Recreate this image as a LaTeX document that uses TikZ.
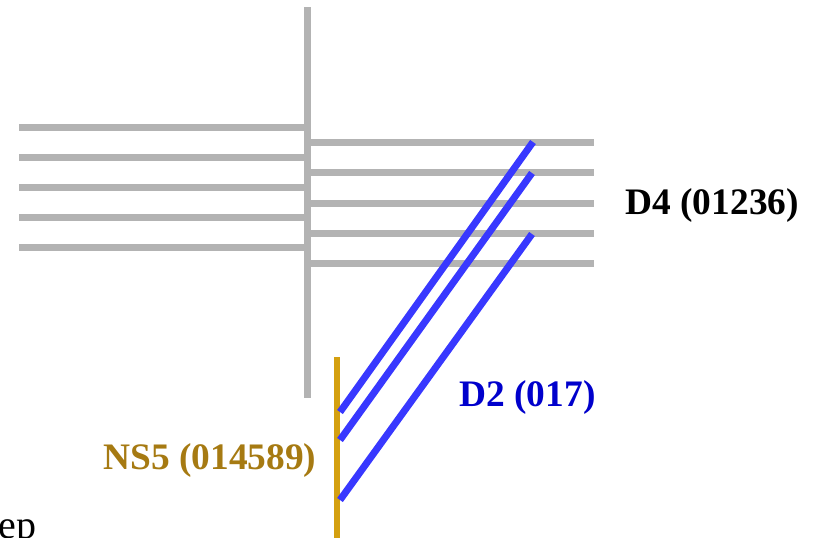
\documentclass[tikz,border=0pt]{standalone}
\usepackage{fontspec}
\setmainfont{Liberation Serif}
\usetikzlibrary{positioning}
\definecolor{lngray}{HTML}{B3B3B3}
\definecolor{lnblue}{HTML}{3838FF}
\definecolor{lborange}{HTML}{D4A010}
\definecolor{txblue}{HTML}{0000CC}
\definecolor{txorange}{HTML}{A67A12}
\tikzset{
  grayline/.style={draw=lngray, line width=3.5pt},
  blueline/.style={draw=lnblue, line width=3.5pt},
  orangeline/.style={draw=lborange, line width=3pt},
  lbl/.style={inner sep=0pt, anchor=base west, font=\fontsize{18.7}{22}\selectfont\bfseries}
}
\begin{document}
\begin{tikzpicture}[x=0.5pt, y=-0.5pt]
  \useasboundingbox (0,0) rectangle (814,537);

  % vertical brane
  \coordinate (vtop) at (307,7);
  \coordinate (vbot) at (307,398);
  \draw[grayline] (vtop) -- (vbot);

  % left stack
  \foreach \y in {127,157,187,217,247}
    \draw[grayline] (19,\y) -- (307,\y);

  % right stack (D4)
  \foreach \y in {142,172,203,233,263}
    \draw[grayline] (307,\y) -- (594,\y);

  % NS5
  \coordinate (nstop) at (337,357);
  \coordinate (nsbot) at (337,545);
  \draw[orangeline] (nstop) -- (nsbot);

  % D2 branes
  \coordinate (da1) at (533,142);  \coordinate (db1) at (340,412);
  \coordinate (da2) at (532,173);  \coordinate (db2) at (340,440);
  \coordinate (da3) at (532,234);  \coordinate (db3) at (340,500);
  \draw[blueline] (da1) -- (db1);
  \draw[blueline] (da2) -- (db2);
  \draw[blueline] (da3) -- (db3);

  % labels
  \node[lbl] (d4) at (625,214) {D4 (01236)};
  \node[lbl, text=txblue] (d2) at (459,406) {D2 (017)};
  \node[lbl, text=txorange] (ns5) at (103,469) {NS5 (014589)};
  \node[inner sep=0pt, anchor=base west, font=\fontsize{20}{24}\selectfont] (ep) at (-2,538) {ep};
\end{tikzpicture}
\end{document}
